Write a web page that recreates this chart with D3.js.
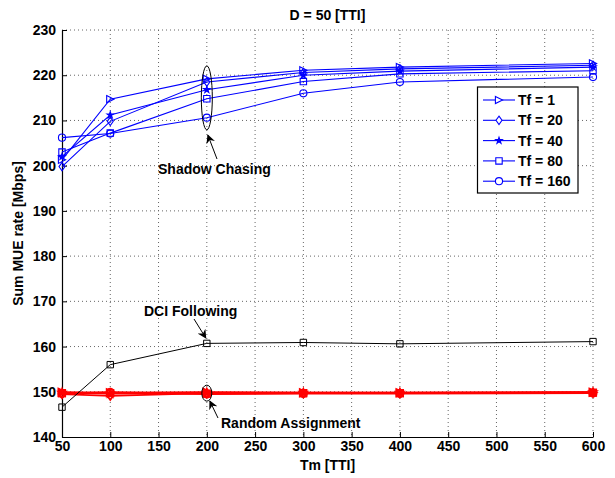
<!DOCTYPE html>
<html>
<head>
<meta charset="utf-8">
<script src="https://cdn.jsdelivr.net/npm/d3@7"></script>
<style>
body { margin: 0; background: #fff; }
text { font-family: "Liberation Sans", Arial, sans-serif; font-weight: bold; }
</style>
</head>
<body>
<svg id="chart" width="615" height="478"></svg>
<script>
// data
var tm = [50, 100, 200, 300, 400, 600];
var tfLabels = ["Tf = 1", "Tf = 20", "Tf = 40", "Tf = 80", "Tf = 160"];
var shadow = [
    [201.3, 214.7, 219.2, 221.1, 221.8, 222.6],
    [199.8, 209.8, 218.5, 220.6, 221.4, 222.2],
    [202.0, 211.2, 216.8, 220.0, 220.9, 221.8],
    [203.0, 207.2, 214.8, 218.6, 220.3, 221.0],
    [206.2, 207.1, 210.6, 216.0, 218.5, 219.6]
];
var random = [
    [149.9, 149.8, 149.9, 149.8, 149.8, 149.9],
    [149.5, 149.1, 149.7, 149.7, 149.7, 149.8],
    [149.8, 149.6, 149.8, 149.8, 149.8, 149.9],
    [149.7, 149.7, 149.6, 149.7, 149.7, 149.8],
    [149.6, 149.9, 149.5, 149.6, 149.6, 149.7]
];
var dci = [146.6, 156.0, 160.7, 160.9, 160.6, 161.1];
var xTicks = d3.range(50, 601, 50);
var yTicks = d3.range(140, 231, 10);
var markers = ["triangle", "diamond", "star", "square", "circle"];

var svg = d3.select("#chart");

var margin = { left: 62, right: 593, top: 30, bottom: 437 };

var xScale = d3.scaleLinear().domain([50, 600]).range([margin.left, margin.right]);
var yScale = d3.scaleLinear().domain([140, 230]).range([margin.bottom, margin.top]);

// grid
svg.append("g").selectAll("line").data(xTicks.slice(1)).enter().append("line")
    .attr("x1", d => xScale(d)).attr("x2", d => xScale(d))
    .attr("y1", margin.top).attr("y2", margin.bottom)
    .attr("stroke", "#666").attr("stroke-width", 1).attr("stroke-dasharray", "1,3");
svg.append("g").selectAll("line").data(yTicks.slice(1)).enter().append("line")
    .attr("x1", margin.left).attr("x2", margin.right)
    .attr("y1", d => yScale(d)).attr("y2", d => yScale(d))
    .attr("stroke", "#666").attr("stroke-width", 1).attr("stroke-dasharray", "1,3");

// axes (ticks point inward)
var xAxis = svg.append("g")
    .attr("transform", `translate(0, ${margin.bottom})`)
    .call(d3.axisBottom(xScale).tickValues(xTicks).tickSizeInner(-5).tickSizeOuter(0).tickPadding(4));
var yAxis = svg.append("g")
    .attr("transform", `translate(${margin.left}, 0)`)
    .call(d3.axisLeft(yScale).tickValues(yTicks).tickSizeInner(-5).tickSizeOuter(0).tickPadding(6));
[xAxis, yAxis].forEach(function(a) {
    a.select(".domain").attr("stroke", "#000").attr("stroke-width", 1.2);
    a.selectAll("text").attr("font-size", 14).attr("fill", "#000")
        .style("font-family", "'Liberation Sans', Arial, sans-serif").style("font-weight", "bold");
});

// marker shapes
function markerPath(type) {
    var s = 3.6;
    if (type == "triangle") return `M${-s},${-s}L${s},0L${-s},${s}Z`;
    if (type == "diamond") return `M0,${-s - 0.6}L${s - 0.6},0L0,${s + 0.6}L${-s + 0.6},0Z`;
    if (type == "square") return `M${-s + 0.4},${-s + 0.4}h${2 * s - 0.8}v${2 * s - 0.8}h${-2 * s + 0.8}Z`;
    if (type == "star") return d3.symbol().type(d3.symbolStar).size(13)();
    return d3.symbol().type(d3.symbolCircle).size(40)();
}

var line = d3.line().x((d, i) => xScale(tm[i])).y(d => yScale(d));

function drawSeries(values, color, width, marker) {
    var g = svg.append("g");
    g.append("path").datum(values).attr("d", line)
        .attr("fill", "none").attr("stroke", color).attr("stroke-width", width);
    g.selectAll("path.m").data(values).enter().append("path").attr("class", "m")
        .attr("d", markerPath(marker))
        .attr("transform", (d, i) => `translate(${xScale(tm[i])}, ${yScale(d)})`)
        .attr("fill", marker == "star" ? color : "none")
        .attr("stroke", color).attr("stroke-width", width);
}

shadow.forEach((s, i) => drawSeries(s, "#0000ff", 1.1, markers[i]));
random.forEach((s, i) => drawSeries(s, "#ff0000", 1.8, markers[i]));
drawSeries(dci, "#000", 1, "square");

// arrow head
svg.append("defs").append("marker")
    .attr("id", "arrow").attr("viewBox", "0 0 10 10").attr("refX", 9).attr("refY", 5)
    .attr("markerWidth", 9).attr("markerHeight", 9).attr("orient", "auto-start-reverse")
    .attr("markerUnits", "userSpaceOnUse")
    .append("path").attr("d", "M0,0L10,5L0,10L3,5Z").attr("fill", "#000");

// Shadow Chasing annotation
svg.append("ellipse").attr("cx", xScale(200)).attr("cy", yScale(215))
    .attr("rx", 5.5).attr("ry", 32).attr("fill", "none").attr("stroke", "#000").attr("stroke-width", 1);
svg.append("line").attr("x1", 217).attr("y1", 159).attr("x2", xScale(200) + 1).attr("y2", 135)
    .attr("stroke", "#000").attr("stroke-width", 1).attr("marker-end", "url(#arrow)");
svg.append("text").attr("x", 158).attr("y", 174).attr("font-size", 14).text("Shadow Chasing");

// DCI Following annotation
svg.append("text").attr("x", 144).attr("y", 316).attr("font-size", 14).text("DCI Following");
svg.append("line").attr("x1", 194).attr("y1", 319).attr("x2", xScale(200) - 1).attr("y2", 338)
    .attr("stroke", "#000").attr("stroke-width", 1).attr("marker-end", "url(#arrow)");

// Random Assignment annotation
svg.append("ellipse").attr("cx", xScale(200)).attr("cy", yScale(149.7))
    .attr("rx", 5).attr("ry", 8).attr("fill", "none").attr("stroke", "#000").attr("stroke-width", 1);
svg.append("line").attr("x1", 218).attr("y1", 418).attr("x2", xScale(200) + 3).attr("y2", 401)
    .attr("stroke", "#000").attr("stroke-width", 1).attr("marker-end", "url(#arrow)");
svg.append("text").attr("x", 221).attr("y", 428).attr("font-size", 14).text("Random Assignment");

// legend
var legend = svg.append("g");
legend.append("rect").attr("x", 477.5).attr("y", 87).attr("width", 100.5).attr("height", 106)
    .attr("fill", "#fff").attr("stroke", "#000").attr("stroke-width", 1.2);
tfLabels.forEach(function(lbl, i) {
    var y = 100 + i * 20.3;
    legend.append("line").attr("x1", 483).attr("x2", 515).attr("y1", y).attr("y2", y)
        .attr("stroke", "#0000ff").attr("stroke-width", 1.1);
    legend.append("path").attr("d", markerPath(markers[i]))
        .attr("transform", `translate(499, ${y})`)
        .attr("fill", markers[i] == "star" ? "#0000ff" : "#fff")
        .attr("stroke", "#0000ff").attr("stroke-width", 1.1);
    legend.append("text").attr("x", 518).attr("y", y + 5).attr("font-size", 14).text(lbl);
});

// titles
svg.append("text").attr("x", (margin.left + margin.right) / 2).attr("y", 20)
    .attr("text-anchor", "middle").attr("font-size", 14).text("D = 50 [TTI]");
svg.append("text").attr("x", (margin.left + margin.right) / 2).attr("y", 470)
    .attr("text-anchor", "middle").attr("font-size", 14).text("Tm [TTI]");
svg.append("text").attr("transform", `translate(23, ${(margin.top + margin.bottom) / 2}) rotate(-90)`)
    .attr("text-anchor", "middle").attr("font-size", 14).text("Sum MUE rate [Mbps]");
</script>
</body>
</html>
